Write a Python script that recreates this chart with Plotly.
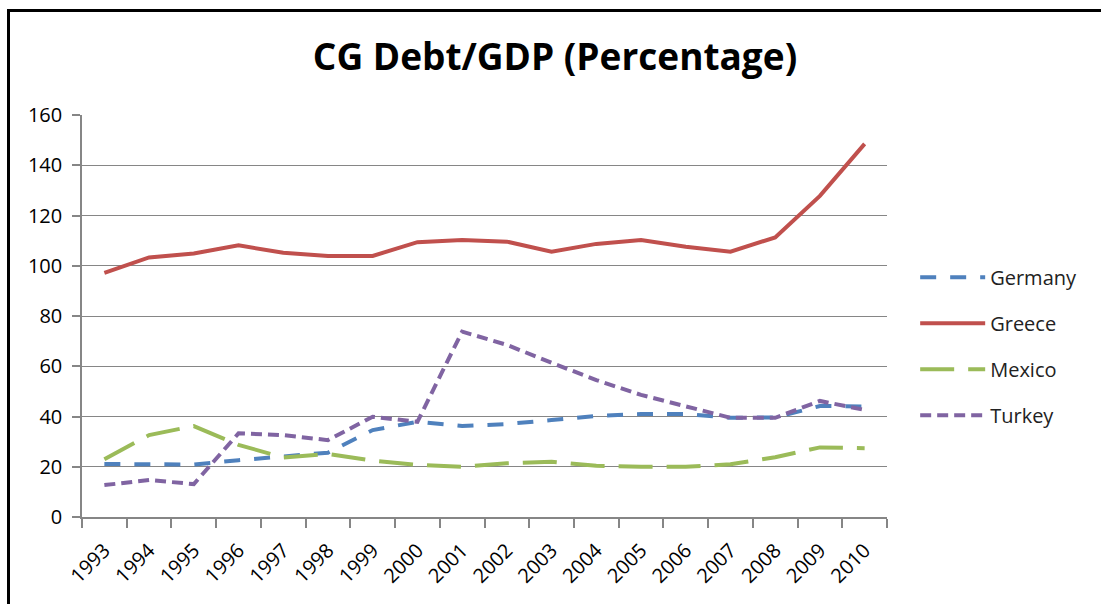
import plotly.graph_objects as go

years = ["1993", "1994", "1995", "1996", "1997", "1998", "1999", "2000", "2001",
         "2002", "2003", "2004", "2005", "2006", "2007", "2008", "2009", "2010"]
germany = [21.1, 21.0, 20.9, 22.6, 24.0, 25.6, 34.6, 37.9, 36.2,
           37.0, 38.6, 40.2, 41.0, 41.0, 39.5, 39.6, 44.2, 44.0]
greece = [97.2, 103.3, 104.9, 108.1, 105.2, 103.9, 103.9, 109.4, 110.2,
          109.6, 105.6, 108.7, 110.2, 107.6, 105.6, 111.3, 127.8, 148.5]
mexico = [23.0, 32.6, 36.2, 28.7, 23.7, 25.1, 22.4, 20.7, 20.0,
          21.4, 22.0, 20.4, 20.0, 20.0, 21.0, 23.8, 27.7, 27.4]
turkey = [12.7, 14.7, 13.1, 33.3, 32.6, 30.6, 39.9, 37.9, 73.8,
          68.5, 61.4, 54.5, 48.6, 43.9, 39.5, 39.5, 46.2, 42.6]
y_ticks = [0, 20, 40, 60, 80, 100, 120, 140, 160]

series = [
    ("Germany", germany, "#4F81BD", "16px,14px"),
    ("Greece", greece, "#C0504D", "solid"),
    ("Mexico", mexico, "#9BBB59", "34px,14px"),
    ("Turkey", turkey, "#8064A2", "11px,6px"),
]

fig = go.Figure()
for name, vals, color, dash in series:
    fig.add_trace(go.Scatter(
        x=years, y=vals, name=name, mode="lines",
        legendgroup=name,
        line=dict(color=color, width=4, dash=dash),
    ))

W, H = 1101, 604
L, R, T, B = 82, 887, 115, 517

fig.update_layout(
    width=W, height=H,
    margin=dict(l=L, r=W - R, t=T, b=H - B, autoexpand=False),
    paper_bgcolor="white", plot_bgcolor="white",
    font=dict(family="Open Sans", color="#000000", size=20),
    title=dict(
        text="<b>CG Debt/GDP (Percentage)</b>",
        x=555 / W, xanchor="center", xref="container",
        y=1 - 57 / H, yanchor="middle", yref="container",
        font=dict(family="Open Sans", size=37, color="#000000"),
    ),
    showlegend=True,
    legend=dict(
        x=1.035, xanchor="left", y=0.425, yanchor="middle",
        font=dict(family="Open Sans", size=20, color="#222222"),
        tracegroupgap=17, bgcolor="rgba(0,0,0,0)",
        itemwidth=65,
    ),
    xaxis=dict(
        type="category", tickangle=-45, tickson="boundaries",
        ticks="outside", ticklen=9, tickcolor="#868686", tickwidth=1.5,
        showline=True, linecolor="#868686", linewidth=1.5,
        showgrid=False, tickfont=dict(family="Open Sans", size=20),
        ticklabelstandoff=12,
        range=[-0.5, len(years) - 0.5],
    ),
    yaxis=dict(
        range=[0, 160], tickvals=y_ticks,
        ticks="outside", ticklen=8, tickcolor="#868686", tickwidth=1.5,
        showline=True, linecolor="#868686", linewidth=1.5,
        showgrid=True, gridcolor="#868686", gridwidth=1,
        zeroline=False, tickfont=dict(family="Open Sans", size=20),
        ticklabelstandoff=6,
    ),
    shapes=[
        dict(type="line", xref="paper", yref="paper",
             x0=(8.5 - L) / (R - L), x1=(8.5 - L) / (R - L),
             y0=(B - 9) / (B - T), y1=(B - 620) / (B - T),
             line=dict(color="black", width=3)),
        dict(type="line", xref="paper", yref="paper",
             x0=(7 - L) / (R - L), x1=(1110 - L) / (R - L),
             y0=(B - 10.5) / (B - T), y1=(B - 10.5) / (B - T),
             line=dict(color="black", width=3)),
    ],
)

fig.write_html("out.html")
